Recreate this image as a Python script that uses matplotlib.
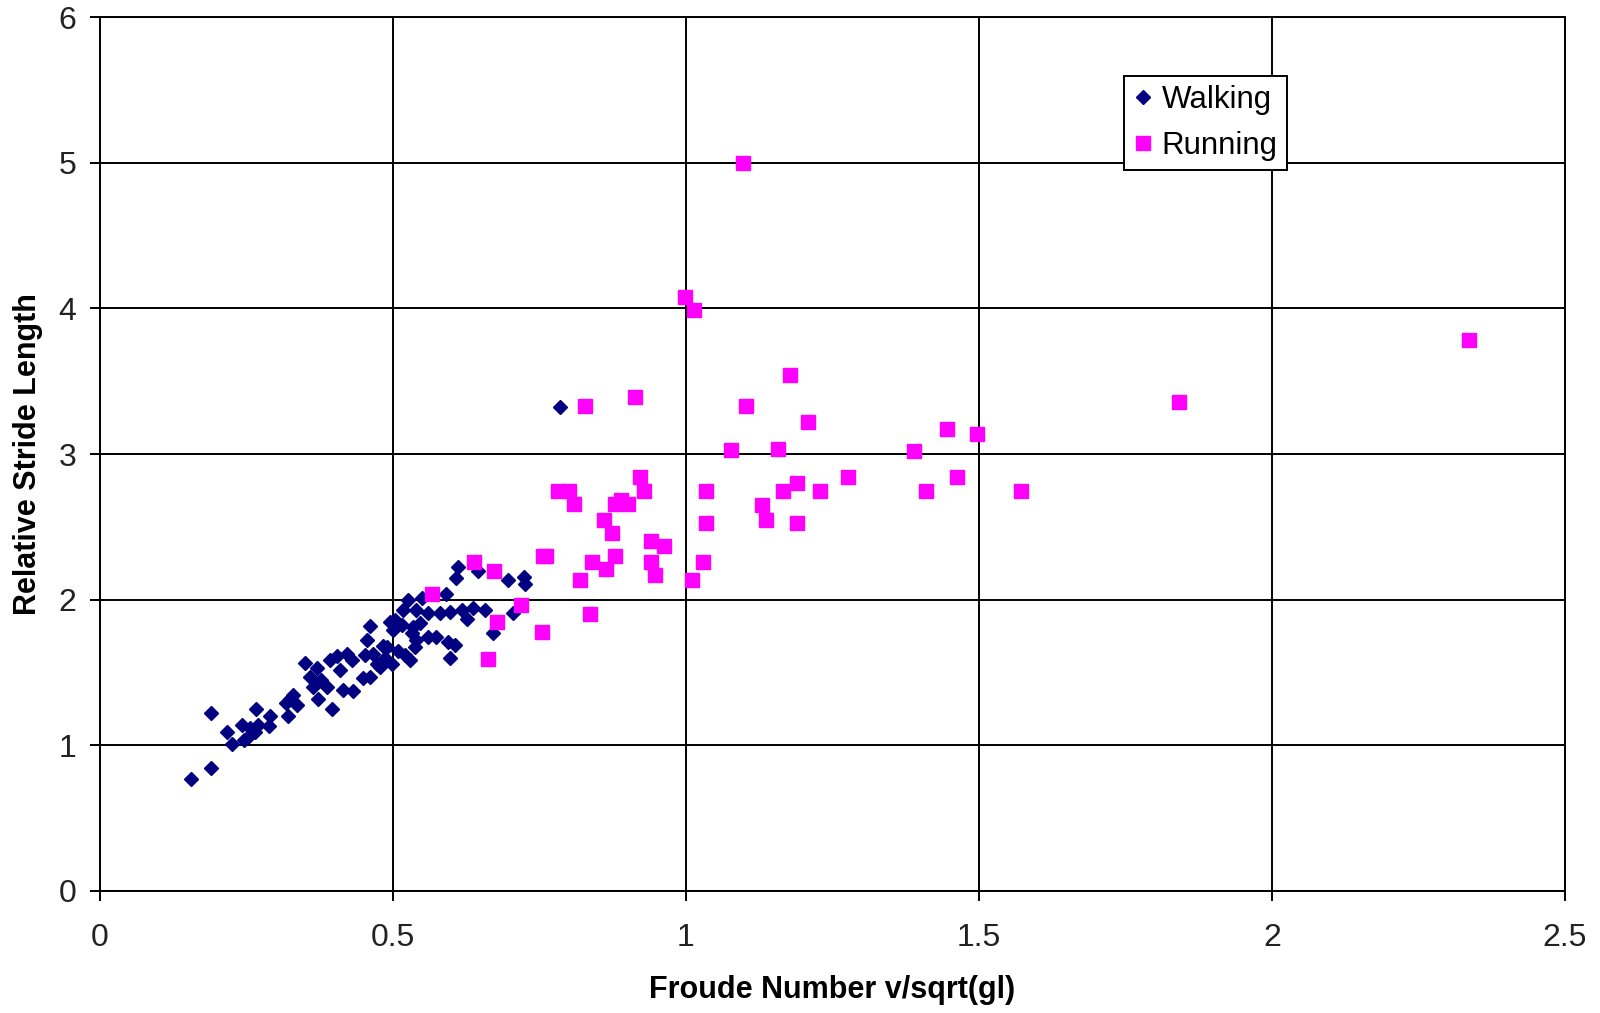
import matplotlib
matplotlib.use("Agg")
import matplotlib.pyplot as plt

plt.rcParams["font.family"] = ["Liberation Sans", "DejaVu Sans"]

# Walking: Froude number and relative stride length
walk_x = [0.156, 0.189, 0.19, 0.217, 0.226, 0.246, 0.242, 0.256, 0.253, 0.267,
          0.264, 0.27, 0.29, 0.289, 0.321, 0.318, 0.33, 0.336, 0.324, 0.35,
          0.358, 0.364, 0.372, 0.37, 0.378, 0.387, 0.396, 0.392, 0.404, 0.41,
          0.415, 0.421, 0.43, 0.432, 0.449, 0.452, 0.461, 0.455, 0.466, 0.472,
          0.483, 0.495, 0.46, 0.478, 0.486, 0.489, 0.498, 0.5, 0.503, 0.509,
          0.515, 0.517, 0.52, 0.526, 0.529, 0.532, 0.535, 0.537, 0.54, 0.54,
          0.546, 0.549, 0.56, 0.56, 0.574, 0.58, 0.59, 0.594, 0.597, 0.597,
          0.606, 0.607, 0.611, 0.617, 0.626, 0.637, 0.645, 0.657, 0.671, 0.697,
          0.705, 0.723, 0.725, 0.785]
walk_y = [0.77, 0.845, 1.22, 1.09, 1.01, 1.035, 1.14, 1.116, 1.06, 1.25,
          1.09, 1.14, 1.2, 1.13, 1.2, 1.29, 1.345, 1.276, 1.32, 1.567,
          1.47, 1.40, 1.32, 1.53, 1.45, 1.40, 1.25, 1.585, 1.61, 1.52,
          1.38, 1.63, 1.585, 1.37, 1.46, 1.62, 1.82, 1.72, 1.63, 1.56,
          1.68, 1.85, 1.47, 1.54, 1.60, 1.676, 1.56, 1.79, 1.86, 1.65,
          1.826, 1.93, 1.62, 2.0, 1.585, 1.77, 1.81, 1.676, 1.93, 1.72,
          1.84, 2.01, 1.906, 1.745, 1.745, 1.906, 2.04, 1.71, 1.917, 1.60,
          1.69, 2.146, 2.226, 1.93, 1.87, 1.94, 2.20, 1.93, 1.77, 2.135,
          1.91, 2.153, 2.11, 3.325]

# Running
run_x = [0.566, 0.638, 0.663, 0.672, 0.677, 0.718, 0.755, 0.756, 0.761, 0.782,
         0.80, 0.809, 0.819, 0.827, 0.836, 0.839, 0.86, 0.863, 0.873, 0.879,
         0.879, 0.89, 0.901, 0.913, 0.922, 0.928, 0.941, 0.941, 0.947, 0.962,
         0.999, 1.01, 1.013, 1.03, 1.034, 1.034, 1.077, 1.098, 1.102, 1.13,
         1.137, 1.157, 1.166, 1.177, 1.189, 1.19, 1.209, 1.228, 1.276, 1.389,
         1.409, 1.446, 1.462, 1.496, 1.572, 1.842, 2.336]
run_y = [2.04, 2.26, 1.59, 2.2, 1.85, 1.963, 1.775, 2.3, 2.30, 2.746,
         2.746, 2.66, 2.135, 3.33, 1.90, 2.26, 2.547, 2.21, 2.46, 2.30,
         2.66, 2.684, 2.66, 3.39, 2.845, 2.746, 2.40, 2.26, 2.17, 2.37,
         4.08, 2.135, 3.99, 2.26, 2.746, 2.524, 3.03, 5.0, 3.33, 2.65,
         2.547, 3.034, 2.746, 3.546, 2.524, 2.80, 3.22, 2.746, 2.845, 3.023,
         2.746, 3.17, 2.845, 3.135, 2.747, 3.357, 3.784]

x_ticks = [0, 0.5, 1, 1.5, 2, 2.5]
x_labels = ["0", "0.5", "1", "1.5", "2", "2.5"]
y_ticks = [0, 1, 2, 3, 4, 5, 6]

fig = plt.figure(figsize=(16, 10.13), dpi=100)
ax = fig.add_axes([0.0625, 0.1205, 0.9155, 0.8625])

ax.plot(walk_x, walk_y, linestyle="none", marker="D", markersize=7.5,
        color="#000080", label="Walking", zorder=3)
ax.plot(run_x, run_y, linestyle="none", marker="s", markersize=10,
        color="#FF00FF", label="Running", zorder=3)

ax.set_xlim(0, 2.5)
ax.set_ylim(0, 6)
ax.set_xticks(x_ticks)
ax.set_xticklabels(x_labels)
ax.set_yticks(y_ticks)
ax.grid(True, color="black", linewidth=1.4)
ax.set_axisbelow(True)
for sp in ax.spines.values():
    sp.set_linewidth(1.4)
    sp.set_color("black")
ax.tick_params(axis="both", direction="out", length=7, width=1.4,
               labelsize=23, colors="black")
ax.tick_params(axis="x", pad=16)
ax.tick_params(axis="y", pad=10)
for lbl in ax.get_xticklabels() + ax.get_yticklabels():
    lbl.set_color("#222222")

ax.set_xlabel("Froude Number v/sqrt(gl)", fontsize=22, fontweight="bold",
              labelpad=16)
ax.set_ylabel("Relative Stride Length", fontsize=22, fontweight="bold",
              labelpad=11)

leg = ax.legend(loc="upper left", bbox_to_anchor=(0.699, 0.933),
                fontsize=22.5, frameon=True, fancybox=False, framealpha=1,
                edgecolor="black", handlelength=0.6, handletextpad=0.3,
                borderpad=0.3, labelspacing=0.5, borderaxespad=0)
leg.get_frame().set_linewidth(1.4)

fig.savefig("out.png", dpi=100)
